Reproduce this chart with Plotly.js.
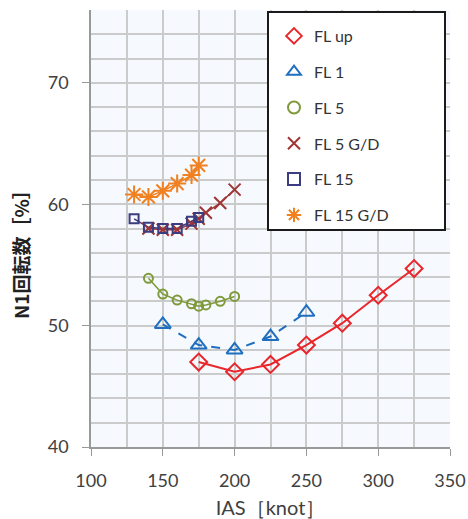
<!DOCTYPE html>
<html><head><meta charset="utf-8">
<script src="https://cdn.plot.ly/plotly-3.0.1.min.js"></script>
<style>body{margin:0;background:#fff}#c{width:468px;height:519px}</style>
</head><body><div id="c"></div>
<script>
const names = ["FL up","FL 1","FL 5","FL 5 G/D","FL 15","FL 15 G/D"];
const flUpX = [175,200,225,250,275,300,325];
const flUpY = [47.0,46.2,46.8,48.4,50.2,52.5,54.7];
const fl1X = [150,175,200,225,250];
const fl1Y = [50.1,48.4,48.0,49.1,51.1];
const fl5X = [140,150,160,170,175,180,190,200];
const fl5Y = [53.9,52.6,52.1,51.8,51.6,51.7,52.0,52.4];
const fl5gdX = [140,150,160,170,175,180,190,200];
const fl5gdY = [58.0,57.9,57.9,58.4,58.8,59.3,60.1,61.2];
const fl15X = [130,140,150,160,170,175];
const fl15Y = [58.8,58.1,58.0,58.0,58.6,58.9];
const fl15gdX = [130,140,150,160,170,175];
const fl15gdY = [60.8,60.6,61.1,61.7,62.4,63.2];
const colors = ["#e8262b","#1f6fc0","#7f9a3a","#a03535","#3c3c80","#f08020"];

const series = [
 {x:flUpX,y:flUpY,line:{width:2},sym:"diamond-open",size:13},
 {x:fl1X,y:fl1Y,line:{width:2,dash:"dash"},sym:"triangle-up-open",size:14},
 {x:fl5X,y:fl5Y,line:{width:1.5},sym:"circle-open",size:9},
 {x:fl5gdX,y:fl5gdY,line:{width:1.5},sym:"x-thin-open",size:12},
 {x:fl15X,y:fl15Y,line:{width:1.5},sym:"square-open",size:9},
 {x:fl15gdX,y:fl15gdY,line:{width:1.5},sym:"asterisk-open",size:15}
];
const traces = [];
series.forEach((s,i)=>{
  traces.push({type:"scatter",mode:"lines",x:s.x,y:s.y,showlegend:false,hoverinfo:"skip",
    line:Object.assign({color:colors[i]},s.line)});
});
series.forEach((s,i)=>{
  traces.push({type:"scatter",mode:"markers",x:s.x,y:s.y,name:names[i],legendgroup:"g"+i,
    marker:{symbol:s.sym,size:s.size,color:colors[i],line:{width:2,color:colors[i]}}});
});

const px = v => (v-91)/359, py = v => (447-v)/437;
const layout = {
 width:468,height:519,
 margin:{l:91,r:18,t:10,b:72},
 paper_bgcolor:"#ffffff",plot_bgcolor:"#f6f9fd",
 font:{family:"Lato, 'Open Sans', sans-serif",color:"#404040",size:18},
 showlegend:true,
 legend:{x:px(274),y:py(19),xanchor:"left",yanchor:"top",bgcolor:"rgba(0,0,0,0)",borderwidth:0,
   font:{size:16,color:"#333"},tracegroupgap:12,traceorder:"grouped",itemsizing:"constant",itemwidth:30},
 shapes:[{type:"rect",xref:"paper",yref:"paper",x0:px(268),x1:px(445),y0:py(230),y1:py(12),
   line:{color:"#1a1a1a",width:2},fillcolor:"#ffffff",layer:"above"}],
 xaxis:{range:[100,350],dtick:50,tick0:100,showgrid:true,gridcolor:"#cbcbcb",gridwidth:1.5,
   minor:{dtick:25,showgrid:true,gridcolor:"#cbcbcb",gridwidth:1.5},
   ticks:"outside",ticklen:7,tickcolor:"#999",showline:true,linecolor:"#999",linewidth:1.5,zeroline:false,
   ticklabelstandoff:10,
   title:{text:"IAS［knot］",font:{size:20,color:"#404040"},standoff:12}},
 yaxis:{range:[40,76],dtick:10,tick0:40,showgrid:true,gridcolor:"#cbcbcb",gridwidth:1.5,
   minor:{dtick:2,showgrid:true,gridcolor:"#cbcbcb",gridwidth:1.5},
   ticks:"outside",ticklen:7,tickcolor:"#999",showline:true,linecolor:"#999",linewidth:1.5,zeroline:false,
   ticklabelstandoff:10},
 annotations:[{text:"<b>N1回転数［%］</b>",xref:"paper",yref:"paper",x:px(20),y:py(250),textangle:-90,
   showarrow:false,xanchor:"center",yanchor:"middle",font:{size:19,color:"#222",family:"'Noto Sans CJK JP', sans-serif"}}]
};
Plotly.newPlot("c",traces,layout,{displayModeBar:false});
</script></body></html>
